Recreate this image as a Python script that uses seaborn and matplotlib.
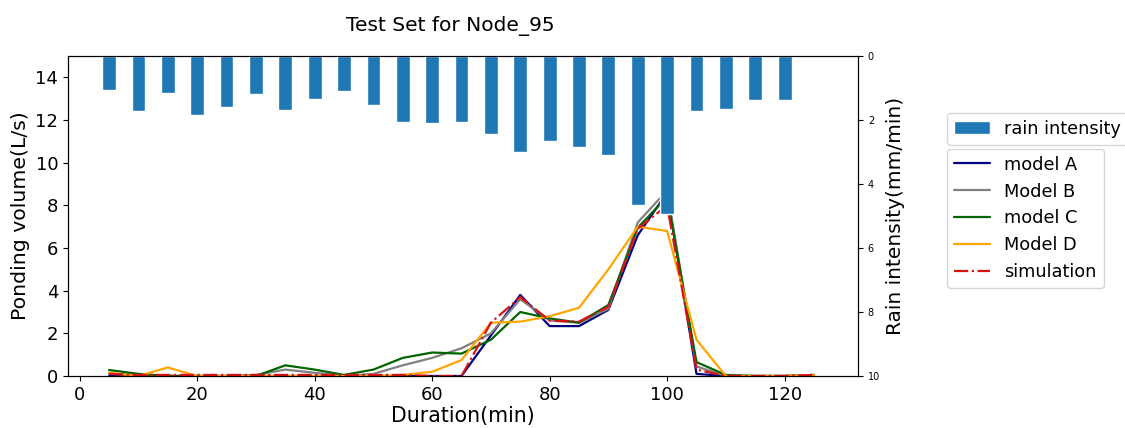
import numpy as np
import pandas as pd
import matplotlib
matplotlib.use("Agg")
import matplotlib.pyplot as plt
import seaborn as sns

# ---- data ----
duration = [5, 10, 15, 20, 25, 30, 35, 40, 45, 50, 55, 60, 65, 70, 75, 80, 85, 90,
            95, 100, 105, 110, 115, 120, 125]
rain_duration = duration[:-1]
rain_intensity = [1.06, 1.73, 1.15, 1.85, 1.58, 1.19, 1.68, 1.34, 1.10, 1.52, 2.06, 2.10,
                  2.06, 2.44, 3.00, 2.66, 2.85, 3.10, 4.66, 4.95, 1.72, 1.64, 1.38, 1.38]
model_a = [0, 0, 0, 0, 0, 0, 0, 0, 0, 0, 0, 0, 0, 1.9, 3.8, 2.34, 2.34, 3.1, 6.6, 8.6,
           0.1, 0, 0, 0, 0]
model_b = [0.1, 0.05, 0, 0, 0, 0.05, 0.3, 0.15, 0, 0.1, 0.5, 0.85, 1.3, 2.0, 3.6, 2.6,
           2.5, 3.15, 7.2, 8.7, 0.45, 0, 0, 0, 0.05]
model_c = [0.28, 0.1, 0, 0, 0, 0, 0.5, 0.3, 0.05, 0.3, 0.85, 1.1, 1.05, 1.7, 3.0, 2.7,
           2.5, 3.33, 6.95, 8.4, 0.65, 0.05, 0, 0, 0.05]
model_d = [0.15, 0, 0.4, 0, 0, 0, 0, 0, 0, 0, 0.05, 0.2, 0.75, 2.5, 2.55, 2.8, 3.2,
           5.0, 7.0, 6.8, 1.7, 0, 0, 0, 0.05]
simulation = [0.1, 0.05, 0.05, 0.05, 0.05, 0.05, 0.05, 0.05, 0.05, 0.05, 0.05, 0, 0,
              2.5, 3.7, 2.6, 2.55, 3.25, 6.9, 8.0, 0.3, 0, 0, 0, 0.05]

series_names = ["model A", "Model B", "model C", "Model D", "simulation"]
series_values = [model_a, model_b, model_c, model_d, simulation]
series_colors = ["navy", "gray", "darkgreen", "orange", "#dd1111"]
series_styles = ["-", "-", "-", "-", "-."]

sns.set_style("ticks")
plt.rcParams["font.family"] = ["DejaVu Sans"]
plt.rcParams.update({"text.color": "black", "axes.labelcolor": "black",
                     "xtick.color": "black", "ytick.color": "black",
                     "axes.edgecolor": "black"})

fig = plt.figure(figsize=(11.25, 4.28), dpi=100)
ax1 = fig.add_axes([0.0604, 0.1215, 0.7023, 0.7475])

line_handles = []
for name, vals, col, ls in zip(series_names, series_values, series_colors, series_styles):
    sns.lineplot(x=duration, y=vals, ax=ax1, color=col, linestyle=ls, linewidth=1.6,
                 label=name, legend=False)
    line_handles.append(ax1.get_lines()[-1])

ax1.set_xlim(-2, 132.5)
ax1.set_ylim(0, 15)
ax1.set_xticks([0, 20, 40, 60, 80, 100, 120])
ax1.set_yticks([0, 2, 4, 6, 8, 10, 12, 14])
ax1.tick_params(labelsize=13)
ax1.set_xlabel("Duration(min)", fontsize=14.8, labelpad=2)
ax1.set_ylabel("Ponding volume(L/s)", fontsize=14.7)
ax1.set_title("Test Set for Node_95", fontsize=14.5, pad=18, x=0.4835)

ax2 = ax1.twinx()
rain_df = pd.DataFrame({"duration": rain_duration, "rain": rain_intensity})
sns.barplot(data=rain_df, x="duration", y="rain", ax=ax2, native_scale=True,
            color="#1f77b4", saturation=1, width=0.47, label="rain intensity")
bar_handles, bar_labels = ax2.get_legend_handles_labels()
if ax2.get_legend() is not None:
    ax2.get_legend().remove()
ax2.set_xlim(-2, 132.5)
ax2.set_ylim(10, 0)
ax2.set_yticks([0, 2, 4, 6, 8, 10])
ax2.tick_params(labelsize=7)
ax2.set_ylabel("Rain intensity(mm/min)", fontsize=14.5)

fig.legend(bar_handles[:1], ["rain intensity"], loc="upper left",
           bbox_to_anchor=(0.842, 0.737), fontsize=12.8, frameon=True,
           borderaxespad=0)
fig.legend(line_handles, series_names, loc="upper left",
           bbox_to_anchor=(0.842, 0.653), fontsize=12.8, frameon=True,
           borderaxespad=0)

fig.savefig("out.png", dpi=100)
